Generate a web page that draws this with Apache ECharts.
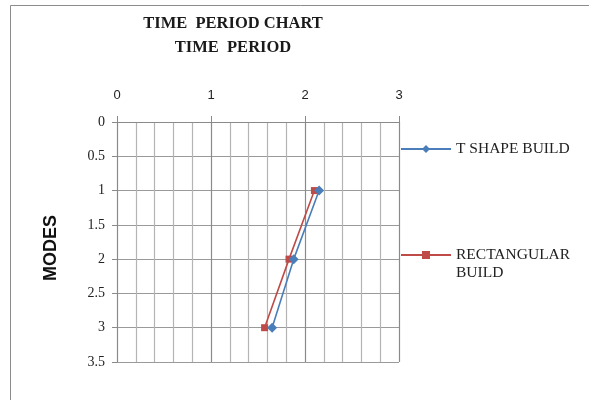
<!DOCTYPE html>
<html>
<head>
<meta charset="utf-8">
<script src="https://cdn.jsdelivr.net/npm/echarts@6/dist/echarts.min.js"></script>
<style>
  html, body { margin: 0; padding: 0; background: #fff; }
  #chart { width: 589px; height: 400px; }
</style>
</head>
<body>
<div id="chart"></div>
<script>
// Modes (vertical axis, inverted) and time period per build type
const modes = [1, 2, 3];
const tShapeBuild = [2.15, 1.88, 1.65];
const rectangularBuild = [2.10, 1.83, 1.57];
const seriesNames = ['T SHAPE BUILD', 'RECTANGULAR BUILD'];
const titleLines = ['TIME  PERIOD CHART', 'TIME  PERIOD'];
const axisName = 'MODES';

const pairs = (xs) => xs.map((x, i) => [x, modes[i]]);

const chart = echarts.init(document.getElementById('chart'), null, { renderer: 'canvas' });

const legendText = {
  fontFamily: 'Liberation Serif',
  fontSize: 15.5,
  lineHeight: 18,
  color: '#222'
};

chart.setOption({
  animation: false,
  backgroundColor: '#fff',
  title: {
    text: titleLines.join('\n'),
    left: 228,
    top: 7,
    textAlign: 'center',
    textStyle: {
      fontFamily: 'Liberation Serif',
      fontWeight: 'bold',
      fontSize: 16.5,
      lineHeight: 24,
      color: '#1a1a1a'
    }
  },
  graphic: [{
    type: 'rect',
    shape: { x: 10.5, y: 5.5, width: 640, height: 440 },
    style: { fill: 'none', stroke: '#8c8c8c', lineWidth: 1 },
    silent: true,
    z: -1
  }],
  legend: [{
    data: [seriesNames[0]],
    orient: 'vertical',
    left: 395,
    top: 135,
    itemWidth: 50,
    itemHeight: 10,
    itemGap: 8,
    textStyle: legendText
  }, {
    data: [seriesNames[1]],
    orient: 'vertical',
    left: 395,
    top: 223,
    itemWidth: 50,
    itemHeight: 10,
    itemGap: 8,
    // blank first line keeps the icon level with "RECTANGULAR"
    formatter: () => '\nRECTANGULAR\nBUILD',
    textStyle: legendText
  }],
  grid: {
    left: 117,
    right: 190,
    top: 122,
    bottom: 38,
    containLabel: false
  },
  xAxis: {
    type: 'value',
    position: 'top',
    min: 0,
    max: 3,
    interval: 1,
    axisLine: { show: true, lineStyle: { color: '#8a8a8a', width: 1 } },
    axisTick: { show: true, inside: false, length: 6, lineStyle: { color: '#8a8a8a' } },
    axisLabel: {
      margin: 20,
      fontFamily: 'Liberation Sans',
      fontSize: 13,
      color: '#222'
    },
    splitLine: { show: true, lineStyle: { color: '#8a8a8a', width: 1.2 } },
    minorTick: { show: false, splitNumber: 5 },
    minorSplitLine: { show: true, lineStyle: { color: '#b4b4b4', width: 1.2 } }
  },
  yAxis: {
    type: 'value',
    inverse: true,
    min: 0,
    max: 3.5,
    interval: 0.5,
    name: axisName,
    nameLocation: 'middle',
    nameGap: 57,
    nameRotate: 90,
    nameTextStyle: {
      fontFamily: 'Liberation Sans',
      fontWeight: 'bold',
      fontSize: 18,
      color: '#111',
      padding: [0, 12, 0, 0]
    },
    axisLine: { show: true, lineStyle: { color: '#8a8a8a', width: 1 } },
    axisTick: { show: true, inside: false, length: 5, lineStyle: { color: '#8a8a8a' } },
    axisLabel: {
      margin: 12,
      fontFamily: 'Liberation Serif',
      fontSize: 14,
      color: '#222'
    },
    splitLine: { show: true, lineStyle: { color: '#9a9a9a', width: 1.2 } }
  },
  series: [{
    name: seriesNames[0],
    type: 'line',
    data: pairs(tShapeBuild),
    symbol: 'diamond',
    symbolSize: 10,
    lineStyle: { color: '#4a7ebb', width: 1.6 },
    itemStyle: { color: '#4a7ebb' },
    z: 3
  }, {
    name: seriesNames[1],
    type: 'line',
    data: pairs(rectangularBuild),
    symbol: 'rect',
    symbolSize: 7,
    lineStyle: { color: '#be4b48', width: 1.6 },
    itemStyle: { color: '#be4b48' },
    z: 2
  }]
});
</script>
</body>
</html>
